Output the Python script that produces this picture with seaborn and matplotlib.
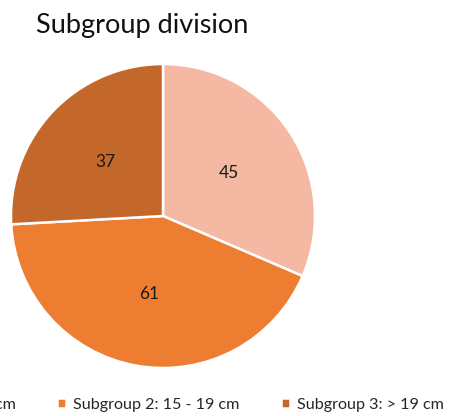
import matplotlib
matplotlib.use("Agg")
import matplotlib.pyplot as plt
import seaborn as sns

categories = ["Subgroup 1: < 15 cm", "Subgroup 2: 15 - 19 cm", "Subgroup 3: > 19 cm"]
values = [45, 61, 37]
colors = ["#F4B8A3", "#ED7D31", "#C4672A"]

sns.set_theme(style="white")
plt.rcParams['font.family'] = ['Lato', 'DejaVu Sans']

fig = plt.figure(figsize=(4.52, 4.16), dpi=100)
ax = fig.add_axes([11 / 452, 48 / 416, 304 / 452, 304 / 416])

wedges, texts = ax.pie(values, labels=[str(v) for v in values], colors=colors,
                       startangle=90, counterclock=False, labeldistance=0.52,
                       wedgeprops=dict(edgecolor="white", linewidth=1.8),
                       textprops=dict(fontsize=12.5, color="#1a1a1a"))
for t in texts:
    t.set_ha("center")
    t.set_va("center")
ax.set_xlim(-1, 1)
ax.set_ylim(-1, 1)

fig.text(36 / 452, 1 - 25 / 416, "Subgroup division", fontsize=19.5, va="center", ha="left", color="#111111")

fig.legend(wedges, categories, loc="center left", bbox_to_anchor=(-147 / 452, 1 - 405 / 416),
           ncol=3, frameon=False, fontsize=11.6, handlelength=0.55, handleheight=0.55,
           handletextpad=0.45, columnspacing=2.55, borderpad=0, borderaxespad=0)

fig.savefig("out.png", dpi=100)
